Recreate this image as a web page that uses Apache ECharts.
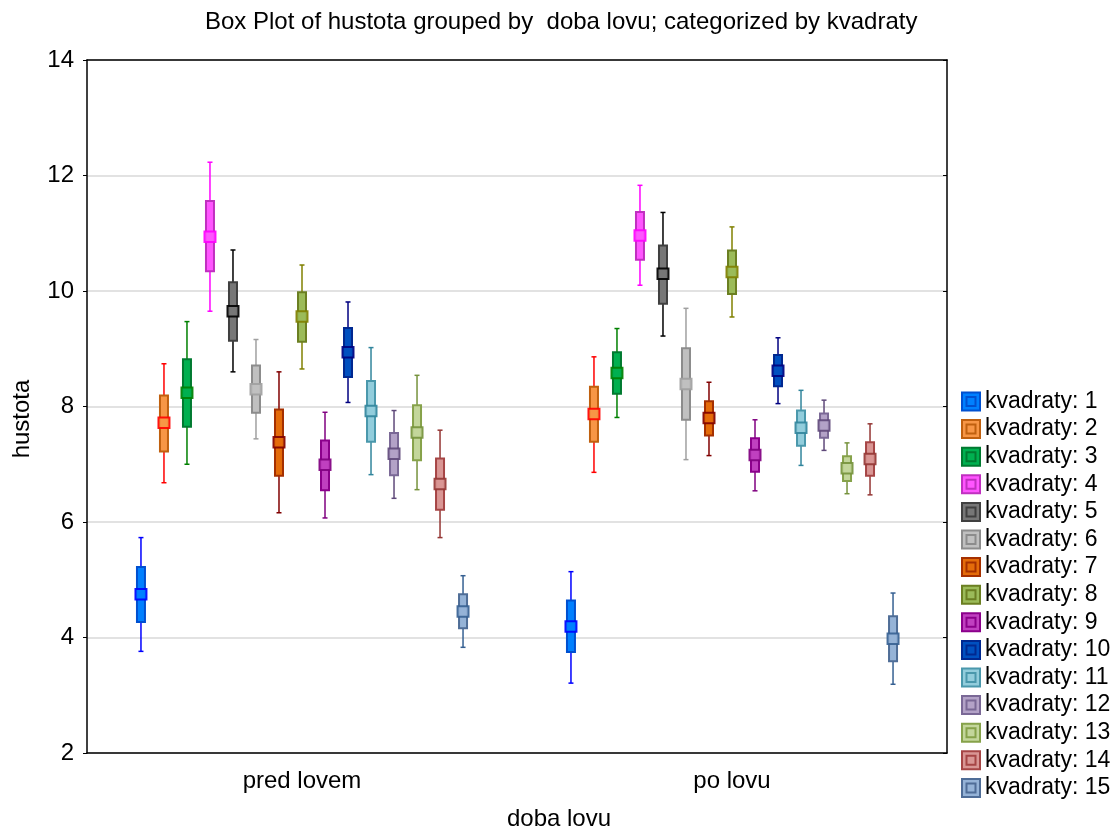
<!DOCTYPE html>
<html>
<head>
<meta charset="utf-8">
<script src="https://cdn.jsdelivr.net/npm/echarts@6/dist/echarts.min.js"></script>
<style>
html, body { margin: 0; padding: 0; background: #ffffff; }
#chart { width: 1116px; height: 830px; }
</style>
</head>
<body>
<div id="chart"></div>
<script>
// Categories (x axis) and y-axis ticks
const categories = ['pred lovem', 'po lovu'];
const yTicks = [2, 4, 6, 8, 10, 12, 14];
const seriesNames = ['kvadraty: 1', 'kvadraty: 2', 'kvadraty: 3', 'kvadraty: 4', 'kvadraty: 5',
  'kvadraty: 6', 'kvadraty: 7', 'kvadraty: 8', 'kvadraty: 9', 'kvadraty: 10',
  'kvadraty: 11', 'kvadraty: 12', 'kvadraty: 13', 'kvadraty: 14', 'kvadraty: 15'];

// Per kvadrat, per category: [whisker low, box low, mean, box high, whisker high]
const kv1  = [[3.76, 4.27, 4.75, 5.22, 5.73], [3.21, 3.75, 4.19, 4.64, 5.14]];
const kv2  = [[6.68, 7.22, 7.72, 8.19, 8.74], [6.86, 7.39, 7.87, 8.34, 8.86]];
const kv3  = [[7.00, 7.65, 8.24, 8.82, 9.47], [7.81, 8.22, 8.58, 8.94, 9.35]];
const kv4  = [[9.65, 10.34, 10.94, 11.56, 12.23], [10.10, 10.54, 10.96, 11.37, 11.83]];
const kv5  = [[8.60, 9.14, 9.65, 10.15, 10.71], [9.22, 9.78, 10.30, 10.79, 11.36]];
const kv6  = [[7.44, 7.89, 8.30, 8.71, 9.16], [7.08, 7.77, 8.39, 9.01, 9.70]];
const kv7  = [[6.16, 6.80, 7.38, 7.95, 8.60], [7.15, 7.50, 7.80, 8.09, 8.42]];
const kv8  = [[8.65, 9.12, 9.56, 9.98, 10.45], [9.55, 9.95, 10.33, 10.70, 11.11]];
const kv9  = [[6.07, 6.55, 6.99, 7.41, 7.90], [6.54, 6.87, 7.16, 7.45, 7.77]];
const kv10 = [[8.07, 8.51, 8.94, 9.36, 9.81], [8.05, 8.35, 8.62, 8.89, 9.19]];
const kv11 = [[6.82, 7.39, 7.92, 8.44, 9.02], [6.98, 7.32, 7.63, 7.93, 8.28]];
const kv12 = [[6.41, 6.81, 7.18, 7.54, 7.93], [7.24, 7.46, 7.67, 7.88, 8.11]];
const kv13 = [[6.56, 7.07, 7.55, 8.02, 8.54], [6.49, 6.71, 6.93, 7.14, 7.37]];
const kv14 = [[5.73, 6.21, 6.66, 7.10, 7.59], [6.47, 6.80, 7.09, 7.38, 7.70]];
const kv15 = [[3.83, 4.16, 4.45, 4.75, 5.07], [3.19, 3.59, 3.98, 4.37, 4.77]];
const allKv = [kv1, kv2, kv3, kv4, kv5, kv6, kv7, kv8, kv9, kv10, kv11, kv12, kv13, kv14, kv15];

// Colours
const fillColors = ['#0080FF', '#F79646', '#00B050', '#FF55FF', '#777777', '#C0C0C0', '#E46C0A', '#9BBB59',
  '#C040C0', '#0050C0', '#92CDDC', '#B3A2C7', '#C3D69B', '#D99694', '#95B3D7'];
const borderColors = ['#0050D0', '#C0600F', '#007A30', '#C030C0', '#404040', '#8C8C8C', '#A53000', '#6B7F22',
  '#8B008B', '#002890', '#4A98AC', '#7A6896', '#86A24A', '#A64545', '#4F6D97'];
const meanColors = ['#0000FF', '#FF0000', '#008000', '#FF00FF', '#000000', '#A0A0A0', '#800000', '#808000',
  '#800080', '#000080', '#31859C', '#5F497A', '#76923C', '#943634', '#366092'];

const FONT = "'Liberation Sans', Arial, sans-serif";
const N = seriesNames.length;

function makeRender(si) {
  return function (params, api) {
    const cat = api.value(0);
    const band = api.size([1, 0])[0];
    const step = band * 0.0535;
    const off = (si - (N - 1) / 2) * step;
    const pWL = api.coord([cat, api.value(1)]);
    const pBL = api.coord([cat, api.value(2)]);
    const pM = api.coord([cat, api.value(3)]);
    const pBH = api.coord([cat, api.value(4)]);
    const pWH = api.coord([cat, api.value(5)]);
    const x = pM[0] + off;
    const boxW = 8;
    const capW = 5;
    const mW = 11, mH = 10.5;
    const wc = meanColors[si];
    return {
      type: 'group',
      children: [
        { type: 'line', shape: { x1: x, y1: pWH[1], x2: x, y2: pWL[1] }, style: { stroke: wc, lineWidth: 1.5 } },
        { type: 'line', shape: { x1: x - capW / 2, y1: pWH[1], x2: x + capW / 2, y2: pWH[1] }, style: { stroke: wc, lineWidth: 1.5 } },
        { type: 'line', shape: { x1: x - capW / 2, y1: pWL[1], x2: x + capW / 2, y2: pWL[1] }, style: { stroke: wc, lineWidth: 1.5 } },
        { type: 'rect', shape: { x: x - boxW / 2, y: pBH[1], width: boxW, height: pBL[1] - pBH[1] },
          style: { fill: fillColors[si], stroke: borderColors[si], lineWidth: 2 } },
        { type: 'rect', shape: { x: x - mW / 2, y: pM[1] - mH / 2, width: mW, height: mH },
          style: { fill: fillColors[si], stroke: wc, lineWidth: 2, opacity: 0.9 } }
      ]
    };
  };
}

const series = allKv.map(function (kv, si) {
  return {
    name: seriesNames[si],
    type: 'custom',
    renderItem: makeRender(si),
    encode: { x: 0, y: [1, 2, 3, 4, 5] },
    itemStyle: { color: fillColors[si], borderColor: borderColors[si] },
    data: kv.map(function (v, ci) { return [ci].concat(v); }),
    z: 3
  };
});

const chart = echarts.init(document.getElementById('chart'), null, { renderer: 'canvas' });
chart.setOption({
  animation: false,
  backgroundColor: '#ffffff',
  textStyle: { fontFamily: FONT },
  title: {
    text: 'Box Plot of hustota grouped by  doba lovu; categorized by kvadraty',
    left: 200,
    top: 5,
    textStyle: { fontFamily: FONT, fontSize: 24, fontWeight: 'normal', color: '#000' }
  },
  legend: {
    orient: 'vertical',
    left: 961,
    top: 390,
    padding: 0,
    itemWidth: 18,
    itemHeight: 19,
    itemGap: 4.6,
    icon: 'path://M0,0H20V20H0Z M5,5H15V15H5Z',
    textStyle: { fontFamily: FONT, fontSize: 23, color: '#000' },
    data: seriesNames.map(function (n, i) {
      return { name: n, itemStyle: { color: fillColors[i], borderColor: borderColors[i], borderWidth: 2 } };
    })
  },
  grid: { left: 87, right: 169, top: 60, bottom: 77, containLabel: false, outerBoundsMode: 'none' },
  xAxis: [
    {
      type: 'category', data: categories, position: 'bottom',
      axisLine: { lineStyle: { color: '#000', width: 1.5 } },
      axisTick: { inside: true, alignWithLabel: true, length: 5, lineStyle: { color: '#000' } },
      axisLabel: { fontFamily: FONT, fontSize: 24, color: '#000', margin: 16 },
      splitLine: { show: false },
      name: 'doba lovu', nameLocation: 'middle', nameGap: 54,
      nameTextStyle: { fontFamily: FONT, fontSize: 24, color: '#000', padding: [0, 0, 0, 84] }
    },
    {
      type: 'category', data: categories, position: 'top',
      axisLine: { lineStyle: { color: '#000', width: 1.5 } },
      axisTick: { inside: true, alignWithLabel: true, length: 5, lineStyle: { color: '#000' } },
      axisLabel: { show: false }, splitLine: { show: false }
    }
  ],
  yAxis: [
    {
      type: 'value', min: yTicks[0], max: yTicks[yTicks.length - 1], interval: 2, position: 'left',
      axisLine: { show: true, lineStyle: { color: '#000', width: 1.5 } },
      axisTick: { show: true, inside: false, length: 4, lineStyle: { color: '#000' } },
      axisLabel: { fontFamily: FONT, fontSize: 24, color: '#000', margin: 13 },
      splitLine: { show: true, lineStyle: { color: '#d9d9d9', width: 1.5 } },
      name: 'hustota', nameLocation: 'middle', nameGap: 53,
      nameTextStyle: { fontFamily: FONT, fontSize: 24, color: '#000', padding: [0, 25, 0, 0] }
    },
    {
      type: 'value', min: yTicks[0], max: yTicks[yTicks.length - 1], interval: 2, position: 'right',
      axisLine: { show: true, lineStyle: { color: '#000', width: 1.5 } },
      axisTick: { show: true, inside: true, length: 4, lineStyle: { color: '#000' } },
      axisLabel: { show: false }, splitLine: { show: false }
    }
  ],
  series: series
});
</script>
</body>
</html>
